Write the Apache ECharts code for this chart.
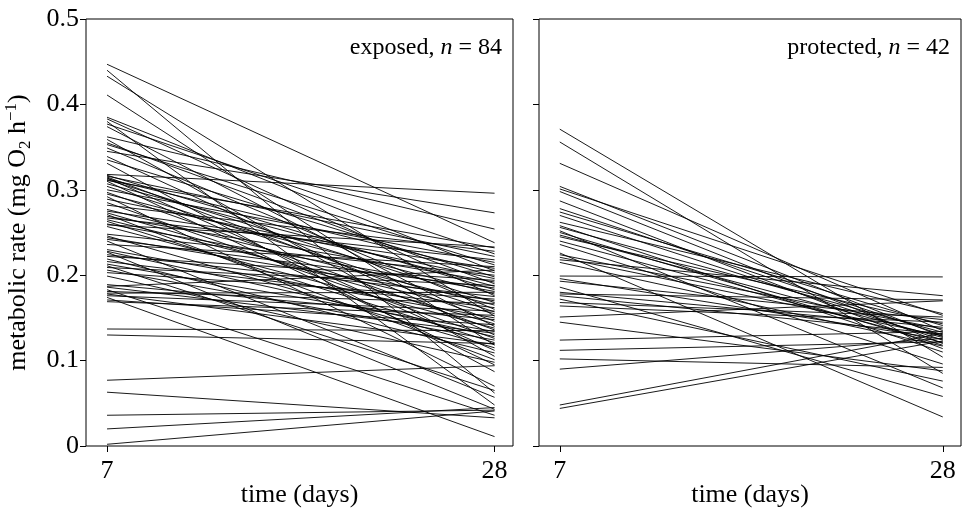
<!DOCTYPE html>
<html><head><meta charset="utf-8">
<script src="https://cdn.jsdelivr.net/npm/echarts@6/dist/echarts.min.js"></script>
<style>html,body{margin:0;padding:0;background:#fff}#c{width:962px;height:511px}</style>
</head><body><div id="c"></div>
<script>
const days = [7, 28];
const yTicks = [0, 0.1, 0.2, 0.3, 0.4, 0.5];
const exposedDay7 = [0.447,0.440,0.433,0.411,0.385,0.383,0.380,0.377,0.374,0.362,0.359,0.355,0.353,0.349,0.345,0.339,0.335,0.331,0.318,0.317,0.316,0.315,0.314,0.313,0.312,0.311,0.310,0.307,0.304,0.300,0.297,0.295,0.292,0.289,0.285,0.282,0.277,0.275,0.273,0.271,0.269,0.267,0.265,0.263,0.260,0.259,0.257,0.248,0.246,0.244,0.242,0.240,0.236,0.230,0.228,0.227,0.224,0.222,0.219,0.216,0.213,0.211,0.209,0.206,0.203,0.199,0.189,0.187,0.186,0.183,0.181,0.179,0.178,0.176,0.174,0.171,0.169,0.137,0.130,0.077,0.063,0.036,0.020,0.002];
const exposedDay28 = [0.238,0.062,0.152,0.118,0.205,0.176,0.048,0.225,0.140,0.254,0.105,0.190,0.212,0.160,0.273,0.130,0.198,0.087,0.296,0.183,0.222,0.146,0.112,0.203,0.168,0.232,0.095,0.187,0.157,0.215,0.136,0.178,0.070,0.196,0.126,0.228,0.165,0.208,0.143,0.101,0.192,0.218,0.155,0.121,0.181,0.233,0.138,0.200,0.115,0.170,0.185,0.057,0.210,0.150,0.128,0.043,0.175,0.194,0.109,0.162,0.134,0.065,0.188,0.124,0.172,0.098,0.148,0.206,0.132,0.036,0.167,0.180,0.119,0.158,0.011,0.142,0.153,0.135,0.120,0.094,0.033,0.042,0.045,0.041];
const protectedDay7 = [0.371,0.356,0.331,0.304,0.301,0.298,0.287,0.278,0.274,0.270,0.262,0.258,0.256,0.252,0.250,0.247,0.245,0.240,0.236,0.226,0.224,0.221,0.218,0.215,0.199,0.196,0.193,0.186,0.180,0.178,0.176,0.172,0.168,0.164,0.151,0.145,0.124,0.112,0.102,0.090,0.048,0.044];
const protectedDay28 = [0.104,0.085,0.135,0.128,0.153,0.120,0.114,0.130,0.141,0.124,0.155,0.110,0.133,0.068,0.118,0.127,0.143,0.121,0.096,0.034,0.137,0.129,0.176,0.117,0.198,0.125,0.148,0.058,0.139,0.171,0.131,0.076,0.151,0.145,0.170,0.088,0.134,0.122,0.092,0.126,0.132,0.123];

const FONT = 'Liberation Serif';
const lineStyle = {color:'#000', width:0.9};
const series = [];
exposedDay7.forEach((v, i) => series.push({type:'line', xAxisIndex:0, yAxisIndex:0, symbol:'none', silent:true,
  lineStyle, data:[[days[0], v],[days[1], exposedDay28[i]]]}));
protectedDay7.forEach((v, i) => series.push({type:'line', xAxisIndex:1, yAxisIndex:1, symbol:'none', silent:true,
  lineStyle, data:[[days[0], v],[days[1], protectedDay28[i]]]}));

function xAx(g){
  return {gridIndex:g, type:'value', min:5.86, max:29,
    axisLine:{show:false}, splitLine:{show:false},
    axisTick:{show:true, customValues:days, length:6, lineStyle:{color:'#000'}},
    axisLabel:{customValues:days, color:'#000', fontFamily:FONT, fontSize:26, margin:12},
    name:'time (days)', nameLocation:'middle', nameGap:36, nameMoveOverlap:false,
    nameTextStyle:{color:'#000', fontFamily:FONT, fontSize:26}};
}
function yAx(g, labels){
  const ax = {gridIndex:g, type:'value', min:yTicks[0], max:yTicks[yTicks.length-1], interval:0.1,
    axisLine:{show:false}, splitLine:{show:false},
    axisTick:{show:true, length:6, lineStyle:{color:'#000'}},
    axisLabel:{show:labels, color:'#000', fontFamily:FONT, fontSize:26, margin:7}};
  if (labels) {
    ax.name = 'metabolic rate (mg O{sub|2} h{sup|\u22121})';
    ax.nameLocation = 'middle'; ax.nameGap = 52; ax.nameRotate = 90; ax.nameMoveOverlap = false;
    ax.nameTextStyle = {color:'#000', fontFamily:FONT, fontSize:26,
      rich:{sub:{color:'#000', fontFamily:FONT, fontSize:17, padding:[14,0,0,0]},
            sup:{color:'#000', fontFamily:FONT, fontSize:17, padding:[0,0,14,0]}}};
  }
  return ax;
}
const richT = {a:{color:'#000', fontFamily:FONT, fontSize:24, fontWeight:'normal'}, i:{color:'#000', fontFamily:FONT, fontSize:24, fontStyle:'italic', fontWeight:'normal'}};
const chart = echarts.init(document.getElementById('c'));
chart.setOption({
  animation:false,
  backgroundColor:'#fff',
  title:[
    {text:'{a|exposed, }{i|n}{a| = 84}', right:962-507, top:31, textStyle:{fontWeight:'normal', rich:richT}},
    {text:'{a|protected, }{i|n}{a| = 42}', right:7, top:31, textStyle:{fontWeight:'normal', rich:richT}}
  ],
  grid:[
    {left:86, top:19, width:427, height:427, show:true, borderColor:'#000', borderWidth:1, backgroundColor:'transparent', containLabel:false, outerBoundsMode:'none'},
    {left:539, top:19, width:422, height:427, show:true, borderColor:'#000', borderWidth:1, backgroundColor:'transparent', containLabel:false, outerBoundsMode:'none'}
  ],
  xAxis:[xAx(0), xAx(1)],
  yAxis:[yAx(0, true), yAx(1, false)],
  series
});
</script>
</body></html>
